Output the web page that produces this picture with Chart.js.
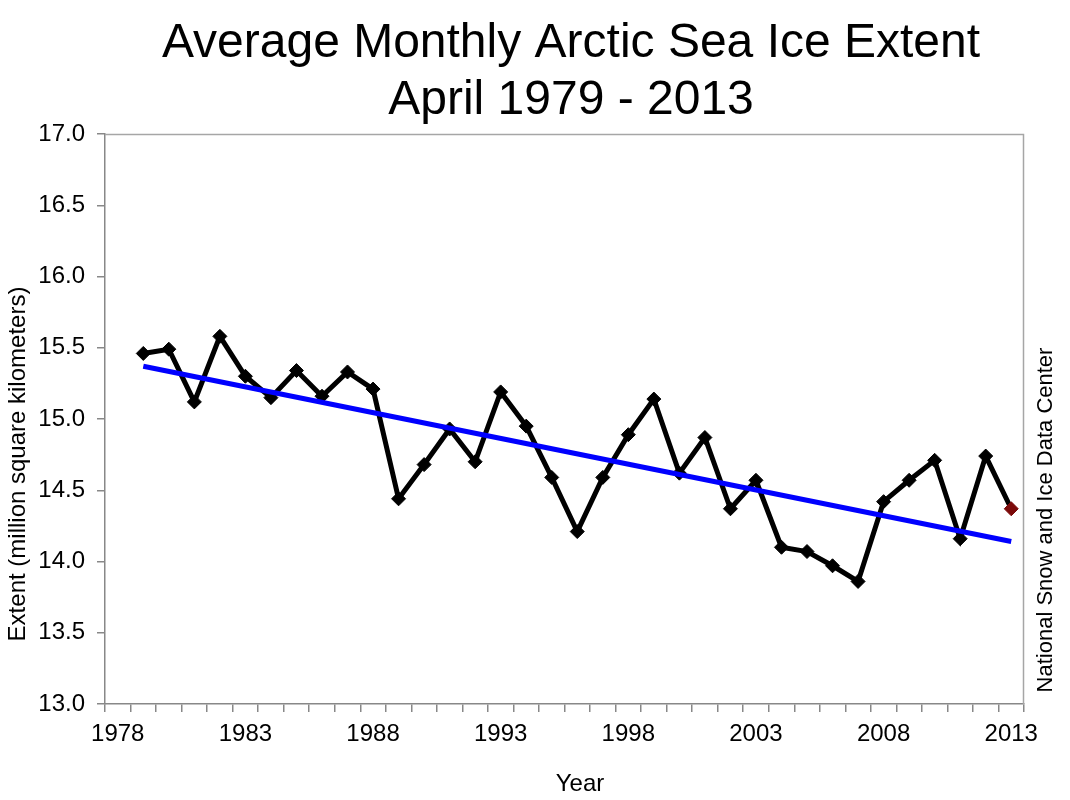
<!DOCTYPE html>
<html>
<head>
<meta charset="utf-8">
<script src="https://cdn.jsdelivr.net/npm/chart.js@4/dist/chart.umd.min.js"></script>
<style>
  html, body { margin: 0; padding: 0; background: #fff; }
  #wrap { width: 1070px; height: 800px; }
</style>
</head>
<body>
<div id="wrap"><canvas id="myChart" width="1070" height="800"></canvas></div>
<script>
// categories: 1978 is an empty slot, data starts 1979
const years = ['1978', '1979', '1980', '1981', '1982', '1983', '1984', '1985', '1986', '1987',
  '1988', '1989', '1990', '1991', '1992', '1993', '1994', '1995', '1996', '1997',
  '1998', '1999', '2000', '2001', '2002', '2003', '2004', '2005', '2006', '2007',
  '2008', '2009', '2010', '2011', '2012', '2013'];

// April extent, million sq km
const extent = [null, 15.46, 15.49, 15.12, 15.58, 15.30, 15.15, 15.34, 15.16, 15.33,
  15.21, 14.44, 14.68, 14.93, 14.70, 15.19, 14.95, 14.59, 14.21, 14.59,
  14.89, 15.14, 14.62, 14.87, 14.37, 14.57, 14.10, 14.07, 13.97, 13.86,
  14.42, 14.57, 14.71, 14.16, 14.74, 14.37];

// linear trend, read at its two ends (1979 and 2013)
const trend = [null, 15.37, null, null, null, null, null, null, null, null,
  null, null, null, null, null, null, null, null, null, null,
  null, null, null, null, null, null, null, null, null, null,
  null, null, null, null, null, 14.14];

const yTicks = [13.0, 13.5, 14.0, 14.5, 15.0, 15.5, 16.0, 16.5, 17.0];

const titleLines = ['Average Monthly Arctic Sea Ice Extent', 'April 1979 - 2013'];
const yTitle = 'Extent (million square kilometers)';
const xTitle = 'Year';
const credit = 'National Snow and Ice Data Center';

const FONT = '"Liberation Sans", Arial, sans-serif';

// last point (current year) is dark red
const pointColors = extent.map((v, i) => i === extent.length - 1 ? '#7b0a0a' : '#000');

// draws the plot box and the text around it
const textPlugin = {
  id: 'textPlugin',
  afterDraw(chart) {
    const ctx = chart.ctx;
    const a = chart.chartArea;
    ctx.save();
    ctx.strokeStyle = '#a6a6a6';
    ctx.lineWidth = 1.5;
    ctx.beginPath();
    ctx.moveTo(a.left, a.top + 0.5);
    ctx.lineTo(a.right - 0.5, a.top + 0.5);
    ctx.lineTo(a.right - 0.5, a.bottom);
    ctx.stroke();

    ctx.fillStyle = '#000';
    ctx.textAlign = 'center';
    ctx.textBaseline = 'alphabetic';
    ctx.font = '48px ' + FONT;
    ctx.fillText(titleLines[0], 571, 57);
    ctx.fillText(titleLines[1], 571, 114);

    ctx.font = '24px ' + FONT;
    ctx.fillText(xTitle, 580, 791);

    ctx.textBaseline = 'middle';
    ctx.save();
    ctx.translate(18, 464);
    ctx.rotate(-Math.PI / 2);
    ctx.fillText(yTitle, 0, 0);
    ctx.restore();

    ctx.font = '22px ' + FONT;
    ctx.save();
    ctx.translate(1046, 520);
    ctx.rotate(-Math.PI / 2);
    ctx.fillText(credit, 0, 0);
    ctx.restore();
    ctx.restore();
  }
};

var ctx = document.getElementById('myChart').getContext('2d');
var myChart = new Chart(ctx, {
  type: 'line',
  data: {
    labels: years,
    datasets: [{
      label: 'Trend',
      data: trend,
      borderColor: '#0000ff',
      borderWidth: 5,
      pointRadius: 0,
      spanGaps: true,
      fill: false
    }, {
      label: 'Extent',
      data: extent,
      borderColor: '#000',
      borderWidth: 5,
      pointStyle: 'rectRot',
      pointRadius: 7,
      pointBackgroundColor: pointColors,
      pointBorderColor: pointColors,
      pointBorderWidth: 1,
      tension: 0,
      fill: false
    }]
  },
  options: {
    responsive: false,
    animation: false,
    layout: {
      padding: { left: 0, top: 134, right: 46, bottom: 0 }
    },
    plugins: {
      legend: { display: false },
      tooltip: { enabled: false }
    },
    scales: {
      x: {
        type: 'category',
        offset: true,
        afterFit: function (scale) { scale.height = 96; },
        grid: {
          offset: true,
          drawOnChartArea: false,
          drawTicks: true,
          tickLength: 8,
          color: '#888',
          lineWidth: 1.5
        },
        border: { display: true, color: '#888', width: 1.5 },
        ticks: {
          autoSkip: false,
          maxRotation: 0,
          padding: 8,
          color: '#000',
          font: { family: FONT, size: 24 },
          callback: function (value, index) {
            return index % 5 === 0 ? years[index] : '';
          }
        }
      },
      y: {
        min: 13,
        max: 17,
        afterFit: function (scale) { scale.width = 105; },
        afterBuildTicks: function (scale) {
          scale.ticks = yTicks.map(v => ({ value: v }));
        },
        grid: {
          drawOnChartArea: false,
          drawTicks: true,
          tickLength: 8,
          color: '#888',
          lineWidth: 1.5
        },
        border: { display: true, color: '#888', width: 1.5 },
        ticks: {
          padding: 12,
          color: '#000',
          font: { family: FONT, size: 24 },
          callback: function (value) { return value.toFixed(1); }
        }
      }
    }
  },
  plugins: [textPlugin]
});
</script>
</body>
</html>
